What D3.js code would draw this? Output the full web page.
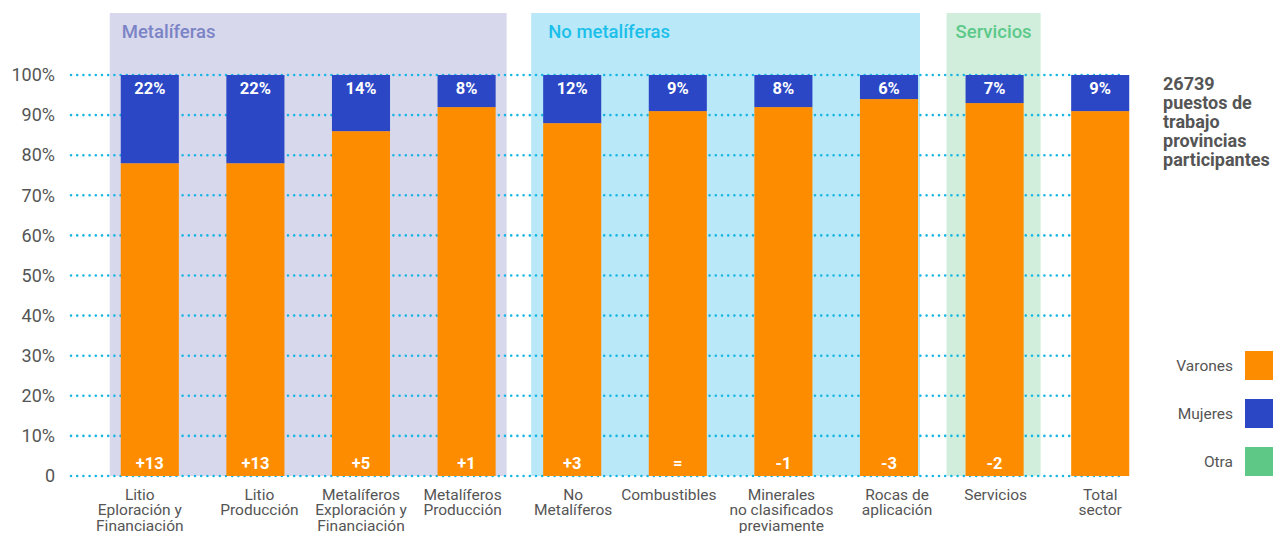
<!DOCTYPE html>
<html>
<head>
<meta charset="utf-8">
<script src="https://cdn.jsdelivr.net/npm/d3@7"></script>
<style>
  html, body { margin: 0; padding: 0; background: #fff; }
  svg { display: block; font-family: Roboto, "Noto Sans", sans-serif; }
</style>
</head>
<body>
<svg id="chart" width="1273" height="533"></svg>
<script>
// Categories (multi-line axis labels) and stacked shares per gender
const categories = [
  ["Litio", "Eploración y", "Financiación"],
  ["Litio", "Producción"],
  ["Metalíferos", "Exploración y", "Financiación"],
  ["Metalíferos", "Producción"],
  ["No", "Metalíferos"],
  ["Combustibles"],
  ["Minerales", "no clasificados", "previamente"],
  ["Rocas de", "aplicación"],
  ["Servicios"],
  ["Total", "sector"]
];
const mujeres = [22, 22, 14, 8, 12, 9, 8, 6, 7, 9];
const varones = [78, 78, 86, 92, 88, 91, 92, 94, 93, 91];
const otra    = [0, 0, 0, 0, 0, 0, 0, 0, 0, 0];
const changes = ["+13", "+13", "+5", "+1", "+3", "=", "-1", "-3", "-2", ""];
const yTicks = [0, 10, 20, 30, 40, 50, 60, 70, 80, 90, 100];
const groupNames = ["Metalíferas", "No metalíferas", "Servicios"];
const groupFirst = [0, 4, 8];
const groupLast = [3, 7, 8];
const legendItems = ["Varones", "Mujeres", "Otra"];
const totalNote = ["26739", "puestos de", "trabajo", "provincias", "participantes"];

// horizontal nudges of the category labels (px)
const labelShift = [-10, 4, 0, -4, 1, -9, -2, 8, 1, 0];

const colors = { Varones: "#fd8c00", Mujeres: "#2b47c6", Otra: "#5ec986" };
// panel styling: fill, title colour, margins around the bars, title inset
const panelStyle = [
  { fill: "#d8d8ec", text: "#7b84c6", padL: 11, padR: 11, inset: 12 },
  { fill: "#b9e9f8", text: "#1cbfea", padL: 12, padR: 2, inset: 17 },
  { fill: "#d0eedb", text: "#5cc98a", padL: 19, padR: 17, inset: 9 }
];

const svg = d3.select("#chart");
const ids = categories.map((_, i) => i);

const x = d3.scaleBand().domain(ids).range([97, 1153]).paddingInner(0.45).paddingOuter(0.225);
const y = d3.scaleLinear().domain([0, 100]).range([476, 75]);

// group background panels
groupNames.forEach((name, gi) => {
  const st = panelStyle[gi];
  const x0 = x(groupFirst[gi]) - st.padL;
  const x1 = x(groupLast[gi]) + x.bandwidth() + st.padR;
  svg.append("rect")
    .attr("x", x0).attr("y", 13)
    .attr("width", x1 - x0).attr("height", y(0) - 13)
    .attr("fill", st.fill);
  svg.append("text")
    .attr("x", x0 + st.inset).attr("y", 38)
    .attr("fill", st.text)
    .attr("font-size", 18.5).attr("font-weight", 500)
    .text(name);
});

// dotted gridlines
svg.append("g").selectAll("line").data(yTicks).join("line")
  .attr("x1", 71).attr("x2", 1124)
  .attr("y1", d => y(d)).attr("y2", d => y(d))
  .attr("stroke", "#19b6e3").attr("stroke-width", 2.6)
  .attr("stroke-linecap", "round").attr("stroke-dasharray", "0,6.2");

// y axis labels
const yAxis = d3.axisLeft(y).tickValues(yTicks).tickSize(0).tickPadding(0)
  .tickFormat(d => d === 0 ? "0" : d + "%");
const yg = svg.append("g").attr("transform", "translate(55,0)").call(yAxis);
yg.select(".domain").remove();
yg.selectAll("text").attr("font-size", 18).attr("fill", "#555").attr("font-family", "Roboto, sans-serif");

// stacked bars
const rows = ids.map(i => ({ i, Varones: varones[i], Mujeres: mujeres[i], Otra: otra[i] }));
const stack = d3.stack().keys(["Varones", "Mujeres", "Otra"]);
const series = stack(rows);
svg.append("g").selectAll("g").data(series).join("g")
  .attr("fill", s => colors[s.key])
  .selectAll("rect").data(s => s).join("rect")
  .attr("x", d => x(d.data.i)).attr("width", x.bandwidth())
  .attr("y", d => y(d[1])).attr("height", d => y(d[0]) - y(d[1]));

// share of women at top of bars
svg.append("g").selectAll("text").data(ids).join("text")
  .attr("x", i => x(i) + x.bandwidth() / 2).attr("y", y(100) + 19)
  .attr("text-anchor", "middle").attr("fill", "#fff")
  .attr("font-size", 16.5).attr("font-weight", 700)
  .text(i => mujeres[i] + "%");

// change labels at the base of bars
svg.append("g").selectAll("text").data(ids).join("text")
  .attr("x", i => x(i) + x.bandwidth() / 2).attr("y", y(0) - 7)
  .attr("text-anchor", "middle").attr("fill", "#fff")
  .attr("font-size", 16.5).attr("font-weight", 700)
  .text(i => changes[i]);

// category labels
const xl = svg.append("g").selectAll("text").data(ids).join("text")
  .attr("text-anchor", "middle").attr("fill", "#555").attr("font-size", 15.5);
xl.each(function (i) {
  const t = d3.select(this);
  const cx = x(i) + x.bandwidth() / 2 + labelShift[i];
  categories[i].forEach((line, k) => {
    t.append("tspan").attr("x", cx).attr("y", 499.5 + k * 15.5).text(line);
  });
});

// total note
const note = svg.append("text").attr("fill", "#555").attr("font-size", 18).attr("font-weight", 700);
totalNote.forEach((line, k) => {
  note.append("tspan").attr("x", 1163).attr("y", 90 + k * 19).text(line);
});

// legend
const lg = svg.append("g").selectAll("g").data(legendItems).join("g")
  .attr("transform", (d, k) => `translate(0,${351 + k * 48})`);
lg.append("rect").attr("x", 1245).attr("y", 0).attr("width", 30).attr("height", 29)
  .attr("fill", d => colors[d]);
lg.append("text").attr("x", 1233).attr("y", 20).attr("text-anchor", "end")
  .attr("fill", "#555").attr("font-size", 15.5).text(d => d);
</script>
</body>
</html>
